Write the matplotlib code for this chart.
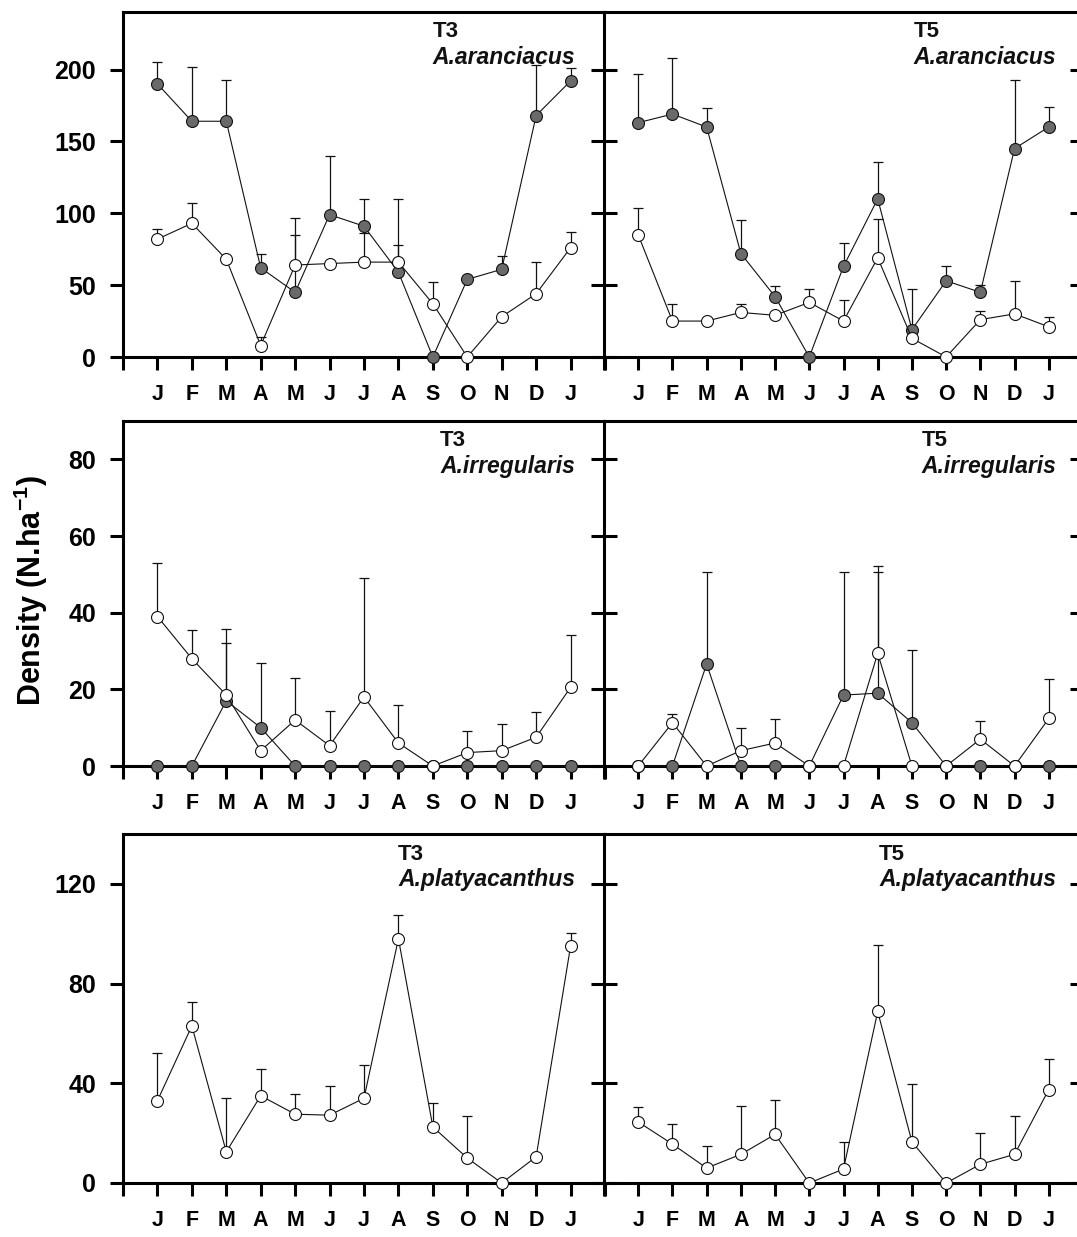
import numpy as np
import matplotlib
matplotlib.use("Agg")
import matplotlib.pyplot as plt

plt.rcParams['font.family'] = ['Liberation Sans', 'DejaVu Sans']
plt.rcParams['font.weight'] = 'bold'
plt.rcParams['mathtext.fontset'] = 'custom'
plt.rcParams['mathtext.bf'] = 'Liberation Sans:bold'
plt.rcParams['mathtext.rm'] = 'Liberation Sans:bold'

months = ['J', 'F', 'M', 'A', 'M', 'J', 'J', 'A', 'S', 'O', 'N', 'D', 'J']

# A. aranciacus
ar_t3_filled = [190, 164, 164, 62, 45, 99, 91, 59, 0, 54, 61, 168, 192]
ar_t3_filled_err = [15, 38, 29, 10, 40, 41, 19, 19, 0, 0, 9, 35, 9]
ar_t3_open = [82, 93, 68, 8, 64, 65, 66, 66, 37, 0, 28, 44, 76]
ar_t3_open_err = [7, 14, 0, 6, 33, 0, 20, 44, 15, 0, 0, 22, 11]

ar_t5_filled = [163, 169, 160, 72, 42, 0, 63, 110, 19, 53, 45, 145, 160]
ar_t5_filled_err = [34, 39, 13, 23, 7.5, 0, 16, 26, 28, 10, 5, 48, 14]
ar_t5_open = [85, 25, 25, 31, 29, 38, 25, 69, 13, 0, 26, 30, 21]
ar_t5_open_err = [19, 12, 0, 6, 0, 9, 15, 27, 0, 0, 6, 23, 7]

# A. irregularis
ir_t3_filled = [0, 0, 17, 10, 0, 0, 0, 0, 0, 0, 0, 0, 0]
ir_t3_filled_err = [0, 0, 15, 17, 0, 0, 0, 0, 0, 0, 0, 0, 0]
ir_t3_open = [39, 28, 18.5, 4, 12, 5.3, 18, 6, 0, 3.5, 4, 7.5, 20.5]
ir_t3_open_err = [14, 7.5, 17.3, 0, 11, 9, 31, 10, 0, 5.7, 7, 6.7, 13.7]

ir_t5_filled = [0, 0, 26.6, 0, 0, 0, 18.5, 19, 11.3, 0, 0, 0, 0]
ir_t5_filled_err = [0, 0, 24, 0, 0, 0, 32, 31.5, 19, 0, 0, 0, 0]
ir_t5_open = [0, 11.3, 0, 4, 6, 0, 0, 29.4, 0, 0, 7, 0, 12.4]
ir_t5_open_err = [0, 2.2, 0, 5.8, 6.2, 0, 0, 22.8, 0, 0, 4.8, 0, 10.4]

# A. platyacanthus
pl_t3_open = [33, 63, 12.5, 35, 27.6, 27.2, 34, 98, 22.5, 10, 0, 10.5, 95]
pl_t3_open_err = [19.3, 9.8, 21.5, 10.7, 8, 11.8, 13.2, 9.5, 9.5, 16.8, 0, 0, 5.3]
pl_t5_open = [24.5, 15.6, 6, 11.5, 19.5, 0, 5.6, 68.8, 16.5, 0, 7.5, 11.5, 37.5]
pl_t5_open_err = [5.8, 8, 8.8, 19.3, 13.7, 0, 10.9, 26.8, 23.1, 0, 12.6, 15.3, 12.2]

row_ylims = [240, 90, 140]
row_yticks = [[0, 50, 100, 150, 200], [0, 20, 40, 60, 80], [0, 40, 80, 120]]

W, H = 1077, 1237
fig = plt.figure(figsize=(W / 100, H / 100), dpi=100)

rows_px = [(12, 357), (421, 766), (834, 1183)]
cols_px = [(123, 605), (604, 1083)]

GRAY = '#6a6a6a'


def series(ax, vals, errs, face):
    x = np.arange(1, len(vals) + 1)
    v = np.asarray(vals, float)
    e = np.asarray(errs, float)
    m = e > 0
    ax.errorbar(x[m], v[m], yerr=[np.zeros(m.sum()), e[m]], fmt='none',
                ecolor='#111111', elinewidth=0.9, capsize=3.6, capthick=0.9,
                zorder=3, clip_on=False)
    ax.plot(x, v, '-', color='#111111', lw=0.8, marker='o', ms=8.6,
            mfc=face, mec='#111111', mew=0.8, zorder=4, clip_on=False)


panels = [
    [('T3', 'A.aranciacus', [(ar_t3_filled, ar_t3_filled_err, GRAY), (ar_t3_open, ar_t3_open_err, 'white')]),
     ('T5', 'A.aranciacus', [(ar_t5_filled, ar_t5_filled_err, GRAY), (ar_t5_open, ar_t5_open_err, 'white')])],
    [('T3', 'A.irregularis', [(ir_t3_filled, ir_t3_filled_err, GRAY), (ir_t3_open, ir_t3_open_err, 'white')]),
     ('T5', 'A.irregularis', [(ir_t5_filled, ir_t5_filled_err, GRAY), (ir_t5_open, ir_t5_open_err, 'white')])],
    [('T3', 'A.platyacanthus', [(pl_t3_open, pl_t3_open_err, 'white')]),
     ('T5', 'A.platyacanthus', [(pl_t5_open, pl_t5_open_err, 'white')])],
]

for r, (top, bot) in enumerate(rows_px):
    for c, (left, right) in enumerate(cols_px):
        ax = fig.add_axes([left / W, 1 - bot / H, (right - left) / W, (bot - top) / H])
        ax.set_xlim(0, 14)
        ax.set_ylim(0, row_ylims[r])
        for s in ax.spines.values():
            s.set_linewidth(2.2)
        ax.set_xticks(range(15))
        ax.set_xticklabels([''] + months + [''], fontsize=15.5, fontweight='bold')
        ax.tick_params(axis='x', direction='out', length=9.5, width=2.2, pad=10)
        ax.set_yticks(row_yticks[r])
        if c == 0:
            ax.set_yticklabels([str(t) for t in row_yticks[r]], fontsize=18, fontweight='bold')
            ax.tick_params(axis='y', direction='out', length=9.5, width=2.2, pad=10)
        else:
            ax.tick_params(axis='y', direction='inout', length=19, width=2.2,
                           left=True, right=True, labelleft=False)
        tname, sp, data = panels[r][c]
        for vals, errs, face in data:
            series(ax, vals, errs, face)
        xr = 0.938 if c == 0 else 0.944
        spt = ax.text(xr, 0.85, sp, transform=ax.transAxes, ha='right', va='baseline',
                      fontsize=16.5, fontweight='bold', fontstyle='italic', color='#111111')
        ax.annotate(tname, xy=(0, 1), xycoords=spt, xytext=(0, 6), textcoords='offset points',
                    ha='left', va='baseline', fontsize=16, fontweight='bold', color='#111111')

fig.text(31 / W, 1 - 590 / H, r'Density (N.ha$^{\mathbf{-1}}$)', rotation=90,
         ha='center', va='center', fontsize=22, fontweight='bold')

fig.savefig('out.png', dpi=100)
